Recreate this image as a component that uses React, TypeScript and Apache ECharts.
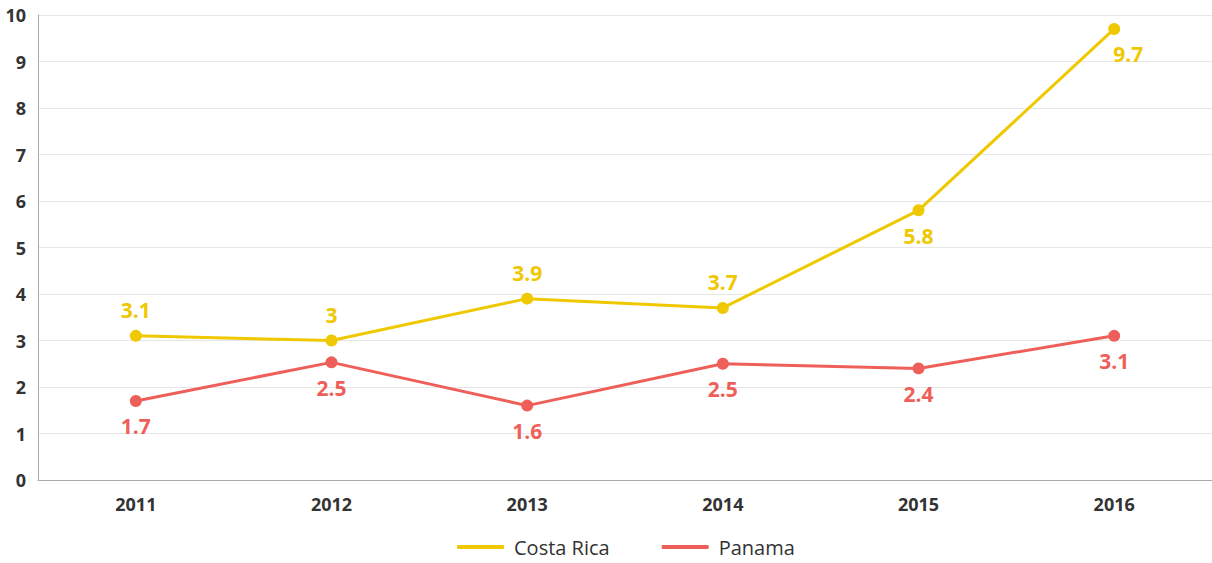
import React, { useEffect, useRef } from "react";
import * as echarts from "echarts";

const years = ["2011", "2012", "2013", "2014", "2015", "2016"];
const costaRica = [3.1, 3, 3.9, 3.7, 5.8, 9.7];
const panama = [1.7, 2.53, 1.6, 2.5, 2.4, 3.1];
const panamaLabels = ["1.7", "2.5", "1.6", "2.5", "2.4", "3.1"];
const costaRicaLabelPos = ["top", "top", "top", "top", "bottom", "bottom"];

const YELLOW = "#f0c800";
const RED = "#ef5f5a";
const FONT = "'Open Sans', sans-serif";

export default function App() {
  const ref = useRef<HTMLDivElement>(null);
  useEffect(() => {
    const chart = echarts.init(ref.current!, null, { renderer: "svg" });
    chart.setOption({
      animation: false,
      grid: { left: 38, right: 0, top: 15, bottom: 83 },
      legend: {
        bottom: 1,
        left: 452,
        itemWidth: 47,
        itemHeight: 4,
        itemGap: 52,
        icon: "roundRect",
        textStyle: { fontFamily: FONT, fontSize: 20, color: "#333", padding: [0, 0, 0, 5] },
        data: ["Costa Rica", "Panama"],
      },
      xAxis: {
        type: "category",
        data: years,
        boundaryGap: true,
        axisLine: { lineStyle: { color: "#aaa" } },
        axisTick: { show: false },
        axisLabel: {
          fontFamily: FONT,
          fontWeight: "bold",
          fontSize: 18,
          color: "#333",
          margin: 15,
        },
      },
      yAxis: {
        type: "value",
        min: 0,
        max: 10,
        interval: 1,
        axisLine: { show: true, lineStyle: { color: "#aaa" } },
        axisTick: { show: false },
        splitLine: { lineStyle: { color: "#e6e6e6" } },
        axisLabel: {
          fontFamily: FONT,
          fontWeight: "bold",
          fontSize: 18,
          color: "#333",
          margin: 12,
        },
      },
      series: [
        {
          name: "Costa Rica",
          type: "line",
          data: costaRica.map((v, i) => ({
            value: v,
            label: {
              position: costaRicaLabelPos[i],
              offset: i === 5 ? [14, 0] : [0, 0],
            },
          })),
          symbol: "circle",
          symbolSize: 12,
          color: YELLOW,
          lineStyle: { width: 3, color: YELLOW },
          label: {
            show: true,
            distance: 9,
            fontFamily: FONT,
            fontWeight: "bold",
            fontSize: 21,
            color: YELLOW,
          },
        },
        {
          name: "Panama",
          type: "line",
          data: panama.map((v, i) => ({ value: v, label: { formatter: panamaLabels[i] } })),
          symbol: "circle",
          symbolSize: 12,
          color: RED,
          lineStyle: { width: 3, color: RED },
          label: {
            show: true,
            position: "bottom",
            distance: 9,
            fontFamily: FONT,
            fontWeight: "bold",
            fontSize: 21,
            color: RED,
          },
        },
      ],
    });
    return () => chart.dispose();
  }, []);
  return <div ref={ref} style={{ width: 1212, height: 563, position: "absolute", left: 0, top: 0 }} />;
}
